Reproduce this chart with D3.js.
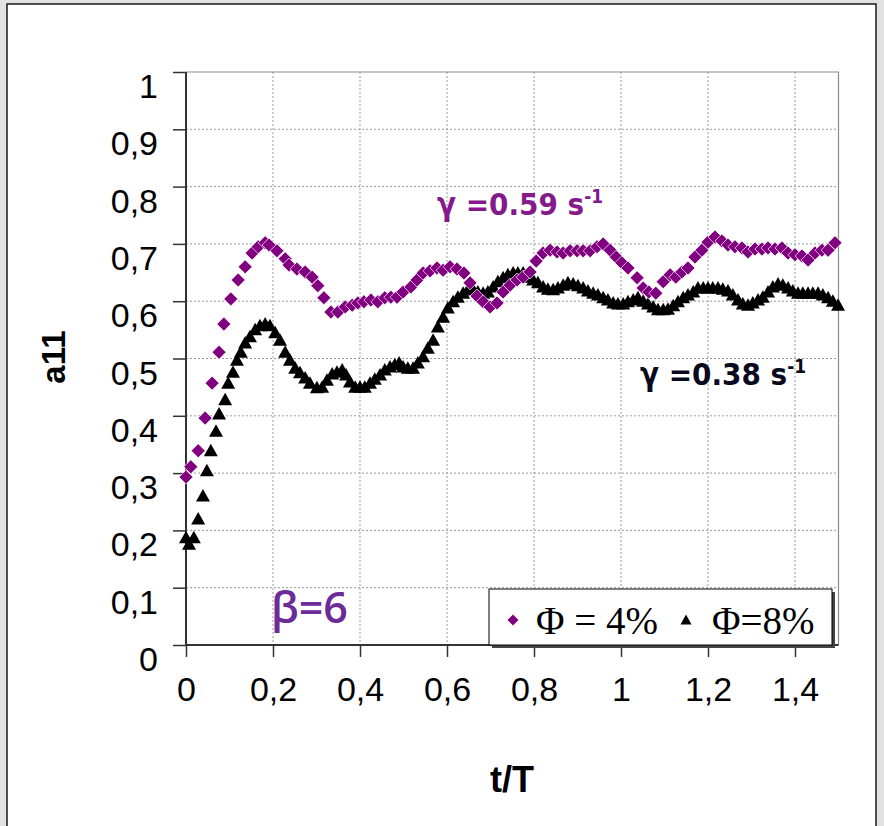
<!DOCTYPE html>
<html><head><meta charset="utf-8">
<script src="https://cdn.jsdelivr.net/npm/d3@7"></script>
<style>html,body{margin:0;padding:0;background:#e2e2e2;} svg{display:block}</style>
</head><body><svg id="c" width="884" height="826"></svg>
<script>
// ---------- data ----------
const xTicks = [0, 0.2, 0.4, 0.6, 0.8, 1, 1.2, 1.4];
const yTicks = [0, 0.1, 0.2, 0.3, 0.4, 0.5, 0.6, 0.7, 0.8, 0.9, 1];
const seriesNames = ["\u03A6 = 4%", "\u03A6=8%"];

// Φ = 4 %  (diamonds)
const phi4T = [0,0.011,0.028,0.044,0.060,0.076,0.087,0.103,0.120,0.136,0.152,0.166,0.182,0.191,0.209,0.228,0.237,0.255,0.274,0.290,0.303,0.317,0.333,0.349,0.366,0.382,0.395,0.409,0.425,0.441,0.457,0.471,0.485,0.499,0.517,0.531,0.545,0.561,0.577,0.591,0.607,0.623,0.639,0.653,0.669,0.683,0.699,0.715,0.729,0.745,0.761,0.775,0.791,0.805,0.821,0.837,0.853,0.867,0.883,0.899,0.913,0.929,0.945,0.959,0.975,0.989,1.002,1.016,1.037,1.051,1.064,1.080,1.097,1.113,1.126,1.140,1.154,1.170,1.186,1.200,1.216,1.232,1.246,1.262,1.278,1.292,1.308,1.324,1.338,1.354,1.370,1.384,1.400,1.416,1.430,1.446,1.462,1.476,1.492];
const phi4A = [0.293,0.311,0.339,0.396,0.457,0.511,0.560,0.604,0.637,0.660,0.684,0.695,0.702,0.698,0.688,0.674,0.663,0.656,0.651,0.642,0.627,0.606,0.581,0.581,0.590,0.593,0.597,0.599,0.602,0.599,0.606,0.607,0.607,0.616,0.625,0.637,0.649,0.653,0.658,0.654,0.660,0.656,0.649,0.632,0.609,0.599,0.590,0.597,0.616,0.628,0.637,0.642,0.651,0.670,0.684,0.689,0.686,0.684,0.688,0.688,0.688,0.688,0.695,0.700,0.689,0.677,0.667,0.658,0.641,0.623,0.616,0.614,0.634,0.646,0.642,0.651,0.658,0.677,0.689,0.703,0.712,0.705,0.698,0.695,0.693,0.686,0.691,0.691,0.693,0.691,0.693,0.684,0.681,0.679,0.672,0.684,0.689,0.689,0.702];

// Φ = 8 %  (triangles)
const phi8T = [0,0.007,0.018,0.028,0.039,0.048,0.057,0.069,0.076,0.090,0.097,0.108,0.117,0.126,0.136,0.147,0.159,0.170,0.182,0.193,0.205,0.216,0.228,0.239,0.251,0.262,0.274,0.285,0.301,0.313,0.324,0.336,0.347,0.359,0.368,0.377,0.389,0.400,0.411,0.423,0.434,0.446,0.457,0.469,0.480,0.490,0.499,0.510,0.522,0.533,0.545,0.556,0.568,0.579,0.591,0.602,0.614,0.625,0.637,0.648,0.660,0.671,0.683,0.694,0.706,0.717,0.729,0.740,0.752,0.763,0.775,0.786,0.798,0.809,0.821,0.832,0.844,0.855,0.867,0.878,0.890,0.901,0.913,0.924,0.936,0.947,0.959,0.970,0.982,0.993,1.005,1.016,1.028,1.039,1.051,1.062,1.074,1.085,1.097,1.108,1.120,1.131,1.143,1.154,1.166,1.177,1.189,1.200,1.211,1.223,1.234,1.246,1.257,1.269,1.280,1.292,1.303,1.315,1.326,1.338,1.349,1.361,1.372,1.384,1.395,1.407,1.418,1.430,1.441,1.453,1.464,1.476,1.487,1.499];
const phi8A = [0.187,0.176,0.187,0.220,0.260,0.304,0.339,0.373,0.403,0.428,0.457,0.476,0.497,0.511,0.527,0.538,0.550,0.557,0.560,0.557,0.545,0.532,0.511,0.497,0.483,0.475,0.466,0.457,0.449,0.450,0.462,0.473,0.476,0.480,0.471,0.459,0.450,0.450,0.450,0.457,0.464,0.471,0.480,0.485,0.489,0.492,0.485,0.483,0.483,0.492,0.503,0.518,0.532,0.555,0.572,0.588,0.599,0.607,0.614,0.620,0.620,0.616,0.614,0.616,0.625,0.634,0.641,0.646,0.649,0.649,0.649,0.642,0.637,0.632,0.625,0.621,0.620,0.623,0.628,0.632,0.630,0.627,0.623,0.618,0.614,0.611,0.606,0.602,0.597,0.595,0.595,0.599,0.602,0.606,0.600,0.595,0.590,0.585,0.585,0.586,0.592,0.599,0.606,0.611,0.616,0.623,0.623,0.623,0.623,0.623,0.621,0.618,0.611,0.602,0.595,0.593,0.597,0.602,0.607,0.616,0.625,0.630,0.628,0.623,0.618,0.614,0.614,0.614,0.614,0.614,0.611,0.606,0.600,0.593];

// ---------- drawing ----------
(function () {
const svg = d3.select("#c");
const W = 884, H = 826;

// page frame
svg.append("rect").attr("x", 0).attr("y", 0).attr("width", W).attr("height", H).attr("fill", "#e2e2e2");
svg.append("rect").attr("x", 7).attr("y", 4).attr("width", 869).attr("height", 840)
  .attr("fill", "#fff").attr("stroke", "#1a1a1a").attr("stroke-width", 1.5);

const pLeft = 186, pTop = 72, pw = 652.5, ph = 573;
const x = d3.scaleLinear().domain([0, 1.5]).range([pLeft, pLeft + pw]);
const y = d3.scaleLinear().domain([0, 1]).range([pTop + ph, pTop]);
const fmt = d => d3.format("~g")(d).replace(".", ",");

// grid
const g = svg.append("g");
g.append("g").selectAll("line").data(xTicks.filter(d => d > 0)).join("line")
  .attr("x1", d => x(d)).attr("x2", d => x(d)).attr("y1", pTop).attr("y2", pTop + ph)
  .attr("stroke", "#9a9a9a").attr("stroke-width", 1).attr("stroke-dasharray", "2,2");
g.append("g").selectAll("line").data(yTicks.filter(d => d > 0 && d < 1)).join("line")
  .attr("y1", d => y(d)).attr("y2", d => y(d)).attr("x1", pLeft).attr("x2", pLeft + pw)
  .attr("stroke", "#9a9a9a").attr("stroke-width", 1).attr("stroke-dasharray", "2,2");
// top / right border
svg.append("path").attr("d", `M${pLeft},${pTop}H${pLeft + pw}V${pTop + ph}`)
  .attr("fill", "none").attr("stroke", "#8c8c8c").attr("stroke-width", 1.2);

// axes
const xAxis = d3.axisBottom(x).tickValues(xTicks).tickSize(12).tickPadding(20).tickFormat(fmt);
const yAxis = d3.axisLeft(y).tickValues(yTicks).tickSize(13).tickPadding(15).tickFormat(fmt);
const gx = svg.append("g").attr("transform", `translate(0,${pTop + ph})`).call(xAxis);
const gy = svg.append("g").attr("transform", `translate(${pLeft},0)`).call(yAxis);
[gx, gy].forEach(a => {
  a.select(".domain").attr("stroke", "#333").attr("stroke-width", 2);
  a.selectAll(".tick line").attr("stroke", "#333").attr("stroke-width", 1.5);
  a.selectAll("text").attr("font-family", "Liberation Sans, Arial, sans-serif")
    .attr("font-size", 34).attr("fill", "#000");
});
gy.select(".domain").attr("d", `M0,${pTop + ph}V${pTop}`);
gx.select(".domain").attr("d", `M${pLeft},0H${pLeft + pw}`);
gy.selectAll("text").attr("dy", "0.75em");

// series: triangles
const tri = "M0,-7L7,5.5L-7,5.5Z";
svg.append("g").selectAll("path").data(phi8T.map((t, i) => [t, phi8A[i]])).join("path")
  .attr("d", tri).attr("transform", d => `translate(${x(d[0])},${y(d[1])})`)
  .attr("fill", "#000");
// series: diamonds
const dia = "M0,-7L7,0L0,7L-7,0Z";
svg.append("g").selectAll("path").data(phi4T.map((t, i) => [t, phi4A[i]])).join("path")
  .attr("d", dia).attr("transform", d => `translate(${x(d[0])},${y(d[1])})`)
  .attr("fill", "#800080").attr("stroke", "#fff").attr("stroke-width", 0.7);

// annotations
function gammaLabel(px, py, txt, col) {
  const t = svg.append("text").attr("x", px).attr("y", py)
    .attr("font-family", "DejaVu Sans, Verdana, sans-serif").attr("font-weight", "bold")
    .attr("font-stretch", "condensed")
    .attr("font-size", 31).attr("fill", col);
  t.append("tspan").text(txt);
  t.append("tspan").attr("dy", -12).attr("font-size", 19).text("-1");
}
gammaLabel(437, 215, "\u03B3 =0.59 s", "#861a8a");
gammaLabel(640, 385, "\u03B3 =0.38 s", "#0a0a1e");

svg.append("text").attr("x", 271).attr("y", 623)
  .attr("font-family", "Open Sans, Noto Sans, sans-serif").attr("font-weight", 600)
  .attr("font-size", 43).attr("fill", "#6b2c98").text("\u03B2=6");

// axis titles
svg.append("text").attr("x", 512).attr("y", 792).attr("text-anchor", "middle")
  .attr("font-family", "Liberation Sans, Arial, sans-serif").attr("font-weight", "bold")
  .attr("font-size", 36).text("t/T");
svg.append("text").attr("transform", "translate(65,357) rotate(-90)").attr("text-anchor", "middle")
  .attr("font-family", "Liberation Sans, Arial, sans-serif").attr("font-weight", "bold")
  .attr("font-size", 33).text("a11");

// legend
const lg = svg.append("g");
lg.append("rect").attr("x", 492).attr("y", 592).attr("width", 343).attr("height", 56).attr("fill", "#444");
lg.append("rect").attr("x", 489).attr("y", 589).attr("width", 343).attr("height", 56)
  .attr("fill", "#fff").attr("stroke", "#000").attr("stroke-width", 1);
lg.append("path").attr("d", "M0,-5.5L5.5,0L0,5.5L-5.5,0Z").attr("transform", "translate(513,620)").attr("fill", "#800080");
lg.append("path").attr("d", "M0,-5.5L5.5,4.5L-5.5,4.5Z").attr("transform", "translate(686,620)").attr("fill", "#000");
lg.selectAll("text").data(seriesNames).join("text")
  .attr("x", (d, i) => i === 0 ? 536 : 712).attr("y", 634)
  .attr("font-family", "Liberation Serif, Times New Roman, serif").attr("font-size", 39)
  .text(d => d);
})();
</script></body></html>
